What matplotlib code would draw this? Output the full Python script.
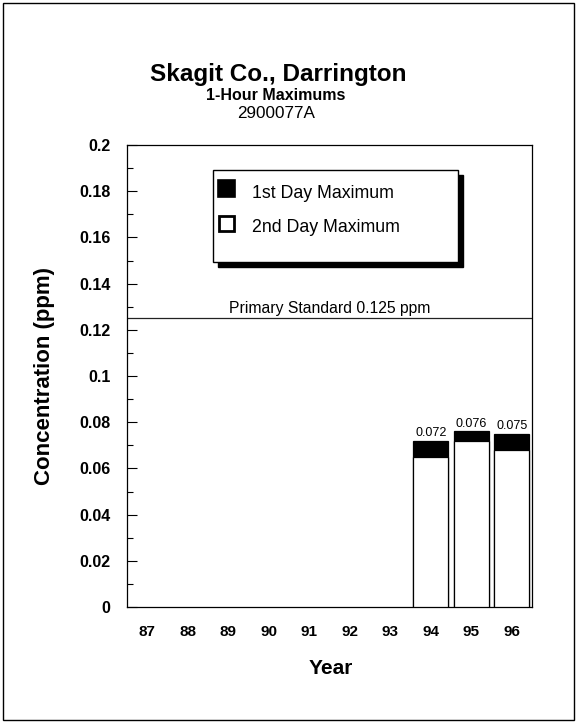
import matplotlib
matplotlib.use("Agg")
import matplotlib.pyplot as plt
from matplotlib.patches import Rectangle
from matplotlib.ticker import MultipleLocator

plt.rcParams['font.family'] = ['Liberation Sans', 'DejaVu Sans']

years = ['87', '88', '89', '90', '91', '92', '93', '94', '95', '96']
first_max = [None, None, None, None, None, None, None, 0.072, 0.076, 0.075]
second_max = [None, None, None, None, None, None, None, 0.065, 0.072, 0.068]
standard = 0.125
ytick_vals = [0, 0.02, 0.04, 0.06, 0.08, 0.1, 0.12, 0.14, 0.16, 0.18, 0.2]
ytick_labels = ['0', '0.02', '0.04', '0.06', '0.08', '0.1', '0.12', '0.14', '0.16', '0.18', '0.2']

W, H = 577, 723
fig = plt.figure(figsize=(W / 100, H / 100), dpi=100)
ax = fig.add_axes([127 / W, 1 - 607 / H, (532 - 127) / W, (607 - 145) / H])

x = list(range(len(years)))
bw = 0.86
for i, (f, s) in enumerate(zip(first_max, second_max)):
    if f is None:
        continue
    ax.bar(i, f, width=bw, color='black', edgecolor='black', linewidth=0.9, zorder=2)
    ax.bar(i, s, width=bw, color='white', edgecolor='black', linewidth=0.9, zorder=3)
    ax.text(i, f + 0.0006, f"{f:.3f}", ha='center', va='bottom', fontsize=9)

ax.axhline(standard, color='#222222', linewidth=0.9, zorder=1)
ax.text(4.5, standard + 0.0008, 'Primary Standard 0.125 ppm', ha='center', va='bottom', fontsize=11.3)

ax.set_xlim(-0.5, len(years) - 0.5)
ax.set_ylim(0, 0.2)
ax.set_xticks(x)
ax.set_xticklabels(years, fontweight='bold', fontsize=11)
ax.tick_params(axis='x', length=0, pad=13)
ax.yaxis.set_minor_locator(MultipleLocator(0.01))
ax.set_yticks(ytick_vals)
ax.set_yticklabels(ytick_labels, fontweight='bold', fontsize=11.5)
ax.tick_params(axis='y', which='major', direction='in', length=7, pad=12, width=0.8)
ax.tick_params(axis='y', which='minor', direction='in', length=4, width=0.8)
for sp in ax.spines.values():
    sp.set_linewidth(0.9)

fig.text(45 / W, 1 - 376 / H, 'Concentration (ppm)', fontweight='bold', fontsize=16,
         rotation=90, ha='center', va='center')
fig.text(331 / W, 1 - 669 / H, 'Year', fontweight='bold', fontsize=15, ha='center', va='center')

# legend box with shadow
lx0, ly0, lx1, ly1 = 213, 170, 458, 262
shadow = Rectangle(((lx0 + 5) / W, 1 - (ly1 + 5) / H), (lx1 - lx0) / W, (ly1 - ly0) / H,
                   transform=fig.transFigure, facecolor='black', edgecolor='black', zorder=5)
fig.patches.append(shadow)
box = Rectangle((lx0 / W, 1 - ly1 / H), (lx1 - lx0) / W, (ly1 - ly0) / H,
                transform=fig.transFigure, facecolor='white', edgecolor='black', linewidth=1, zorder=6)
fig.patches.append(box)
sq = 17
fig.patches.append(Rectangle((218 / W, 1 - 197 / H), sq / W, sq / H, transform=fig.transFigure,
                             facecolor='black', edgecolor='black', linewidth=1.2, zorder=7))
fig.patches.append(Rectangle((219 / W, 1 - 231 / H), (sq - 2) / W, (sq - 2) / H, transform=fig.transFigure,
                             facecolor='white', edgecolor='black', linewidth=2, zorder=7))
fig.text(252 / W, 1 - 194 / H, '1st Day Maximum', fontsize=12.8, va='center', ha='left', zorder=8)
fig.text(252 / W, 1 - 228 / H, '2nd Day Maximum', fontsize=12.8, va='center', ha='left', zorder=8)

fig.text(278 / W, 1 - 74 / H, 'Skagit Co., Darrington', fontsize=17.5, fontweight='bold', ha='center', va='center')
fig.text(276 / W, 1 - 96 / H, '1-Hour Maximums', fontsize=11.5, fontweight='bold', ha='center', va='center')
fig.text(276 / W, 1 - 113 / H, '2900077A', fontsize=12.3, ha='center', va='center')

fig.patches.append(Rectangle((3 / W, 3 / H), (W - 6) / W, (H - 6) / H, transform=fig.transFigure,
                             facecolor='none', edgecolor='black', linewidth=1))

fig.savefig('out.png', dpi=100)
